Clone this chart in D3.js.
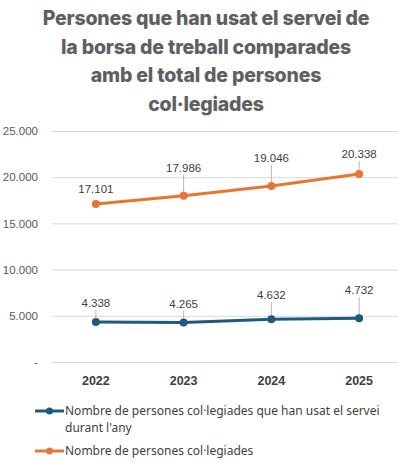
<!DOCTYPE html>
<html>
<head>
<meta charset="utf-8">
<script src="https://cdn.jsdelivr.net/npm/d3@7"></script>
<style>
  body { margin: 0; background: #fff; }
</style>
</head>
<body>
<svg id="chart"></svg>
<script>
// chart values
const years = ["2022", "2023", "2024", "2025"];
const usedService = [4338, 4265, 4632, 4732];
const totalMembers = [17101, 17986, 19046, 20338];
const yTicks = [0, 5000, 10000, 15000, 20000, 25000];
const titleLines = [
  "Persones que han usat el servei de",
  "la borsa de treball comparades",
  "amb el total de persones",
  "col·legiades"
];
const seriesNames = [
  "Nombre de persones col·legiades que han usat el servei",
  "Nombre de persones col·legiades"
];

let layout = {"width": 398, "height": 463,
              "left": 52, "right": 403,
              "top": 131, "bottom": 362};

const blue = "#1d5b7d", orange = "#ea7433";

const fmt = v => v === 0 ? "-" : d3.format(",")(v).replace(/,/g, ".");

let svg = d3.select("#chart")
  .attr("width", layout.width)
  .attr("height", layout.height);

let xScale = d3.scaleBand()
  .domain(years)
  .range([layout.left, layout.right]);

let yScale = d3.scaleLinear()
  .domain([0, 25000])
  .range([layout.bottom, layout.top]);

const cx = d => xScale(d) + xScale.bandwidth() / 2;

// title
svg.append("g").selectAll("text")
  .data(titleLines)
  .join("text")
  .attr("x", 206)
  .attr("y", (d, i) => 25 + i * 28.5)
  .attr("text-anchor", "middle")
  .attr("font-family", "Inter, sans-serif")
  .attr("font-weight", 800)
  .attr("font-size", 19.5)
  .attr("letter-spacing", -0.2)
  .attr("fill", "#5f5f5f")
  .text(d => d);

// gridlines + y labels
let yAxis = svg.append("g")
  .attr("transform", `translate(${layout.left},0)`)
  .call(d3.axisLeft(yScale).tickValues(yTicks)
    .tickSize(-(layout.width - layout.left)).tickPadding(14).tickFormat(fmt));
yAxis.select(".domain").remove();
yAxis.selectAll(".tick line").attr("stroke", "#d9d9d9");
yAxis.selectAll(".tick text")
  .attr("font-family", "Liberation Sans, Arial, sans-serif")
  .attr("font-size", 11.5)
  .attr("fill", "#595959");

// x labels
let xAxis = svg.append("g")
  .attr("transform", `translate(0,${layout.bottom})`)
  .call(d3.axisBottom(xScale).tickSize(0).tickPadding(14));
xAxis.select(".domain").remove();
xAxis.selectAll(".tick text")
  .attr("font-family", "Liberation Sans, Arial, sans-serif")
  .attr("font-weight", "bold")
  .attr("font-size", 12.5)
  .attr("fill", "#404040");

// series
const series = [
  {values: usedService, color: blue, labelDy: [-15, -15, -20, -24]},
  {values: totalMembers, color: orange, labelDy: [-11, -24, -24, -16]}
];

let line = d3.line()
  .x((d, i) => cx(years[i]))
  .y(d => yScale(d));

series.forEach(s => {
  let g = svg.append("g");
  g.append("path")
    .attr("d", line(s.values))
    .attr("fill", "none")
    .attr("stroke", s.color)
    .attr("stroke-width", 3);
  // leader lines
  g.selectAll(".leader")
    .data(s.values)
    .join("line")
    .attr("class", "leader")
    .attr("x1", (d, i) => cx(years[i]))
    .attr("x2", (d, i) => cx(years[i]))
    .attr("y1", d => yScale(d) - 3)
    .attr("y2", (d, i) => yScale(d) + s.labelDy[i] + 3)
    .attr("stroke", "#a6a6a6")
    .attr("stroke-width", 0.8)
    .attr("display", (d, i) => s.labelDy[i] < -14 ? null : "none");
  g.selectAll("circle")
    .data(s.values)
    .join("circle")
    .attr("cx", (d, i) => cx(years[i]))
    .attr("cy", d => yScale(d))
    .attr("r", 4)
    .attr("fill", s.color);
  g.selectAll(".lbl")
    .data(s.values)
    .join("text")
    .attr("class", "lbl")
    .attr("x", (d, i) => cx(years[i]))
    .attr("y", (d, i) => yScale(d) + s.labelDy[i])
    .attr("text-anchor", "middle")
    .attr("font-family", "Liberation Sans, Arial, sans-serif")
    .attr("font-size", 11.5)
    .attr("fill", "#404040")
    .text(d => fmt(d));
});

// legend
let legend = svg.append("g").attr("font-family", "Noto Sans, sans-serif")
  .attr("font-size", 12).attr("fill", "#404040");
const legendRows = [
  {color: blue, y: 411, lines: [seriesNames[0], "durant l'any"]},
  {color: orange, y: 451, lines: [seriesNames[1]]}
];
legendRows.forEach(r => {
  legend.append("line")
    .attr("x1", 35).attr("x2", 64)
    .attr("y1", r.y).attr("y2", r.y)
    .attr("stroke", r.color).attr("stroke-width", 3);
  legend.append("circle")
    .attr("cx", 49.5).attr("cy", r.y).attr("r", 3.5).attr("fill", r.color);
  legend.selectAll(null)
    .data(r.lines)
    .join("text")
    .attr("x", 65)
    .attr("y", (d, i) => r.y + 4 + i * 17)
    .text(d => d);
});
</script>
</body>
</html>
